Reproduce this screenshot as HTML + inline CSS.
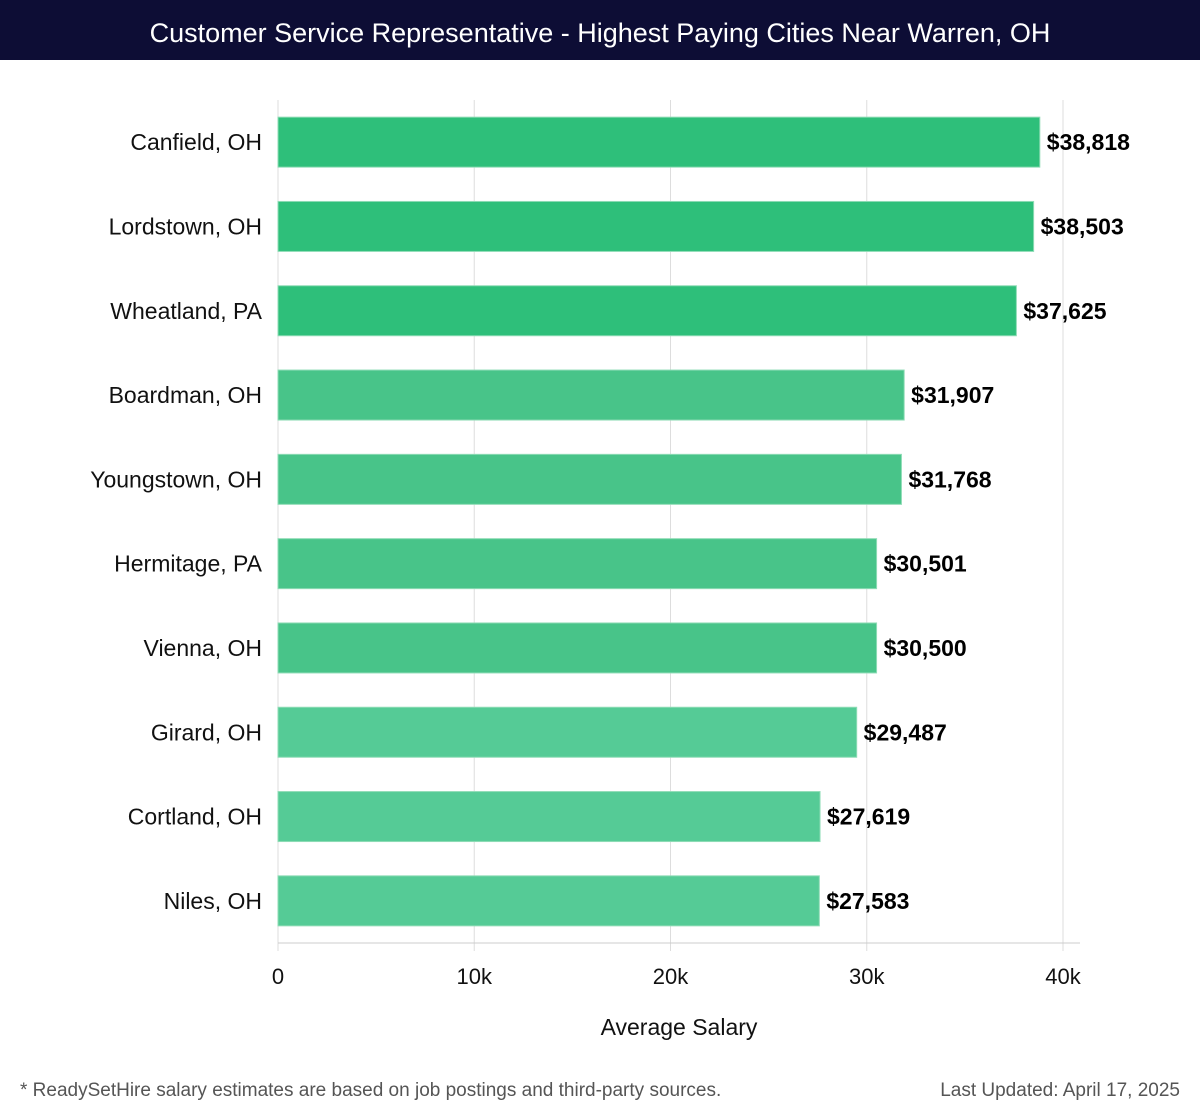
<!DOCTYPE html>
<html><head><meta charset="utf-8"><style>
body{margin:0;width:1200px;height:1120px;background:#fff;font-family:"Liberation Sans","DejaVu Sans",sans-serif;overflow:hidden;position:relative}
#title{position:absolute;left:0;top:0;width:1200px;height:60px;background:#0d0d35;color:#fff;font-size:27px;text-align:center;line-height:66px}
.foot{position:absolute;top:1080px;font-size:19px;color:#555}
</style></head><body>
<div id="title">Customer Service Representative - Highest Paying Cities Near Warren, OH</div>
<svg id="chart" width="1200" height="1070" style="position:absolute;left:0;top:0"></svg>
<div class="foot" style="left:20px">* ReadySetHire salary estimates are based on job postings and third-party sources.</div>
<div class="foot" style="right:20px">Last Updated: April 17, 2025</div>
<script>
const cities=["Canfield, OH","Lordstown, OH","Wheatland, PA","Boardman, OH","Youngstown, OH","Hermitage, PA","Vienna, OH","Girard, OH","Cortland, OH","Niles, OH"];
const salaries=[38818,38503,37625,31907,31768,30501,30500,29487,27619,27583];
const ticks=[0,10000,20000,30000,40000];
const tickLabels=["0","10k","20k","30k","40k"];
const NS="http://www.w3.org/2000/svg";
const svg=document.getElementById("chart");
const x0=278,x1=1063,top0=100,bot=943;
const xs=v=>x0+(v/40000)*(x1-x0);
const step=(bot-top0)/cities.length;
const ys=i=>top0+i*step+step/2;
function mk(t,a){const e=document.createElementNS(NS,t);for(const k in a)e.setAttribute(k,a[k]);svg.appendChild(e);return e;}
ticks.forEach((t,i)=>{
 const g=mk("line",{x1:xs(t),x2:xs(t),y1:top0,y2:bot+8,stroke:"#ddd","stroke-width":1});
 
 
 const l=mk("text",{x:xs(t),y:984,"text-anchor":"middle","font-size":22,fill:"#111"});
 l.textContent=tickLabels[i];
 
 
});
const ax=mk("line",{x1:x0,x2:1080,y1:bot,y2:bot,stroke:"#ccc"});


const mx=Math.max(...salaries);
salaries.forEach((v,i)=>{
 const c=v>=37000?"#2ebf7a":(v>=30000?"#48c489":"#55cb96");
 const b=mk("rect",{x:x0,y:ys(i)-25,width:xs(v)-x0,height:50,fill:c,stroke:"#8fdcb6","stroke-width":1});
 
 
 const lab=mk("text",{x:xs(v)+7,y:ys(i)+8,"font-size":23,"font-weight":"bold",fill:"#000"});
 lab.textContent="$"+v.toLocaleString("en-US");
 
 
 const cl=mk("text",{x:262,y:ys(i)+8,"text-anchor":"end","font-size":23,fill:"#111"});
 cl.textContent=cities[i];
 
 
});
const xt=mk("text",{x:679,y:1035,"text-anchor":"middle","font-size":23,fill:"#111"});
xt.textContent="Average Salary";


</script>
</body></html>
